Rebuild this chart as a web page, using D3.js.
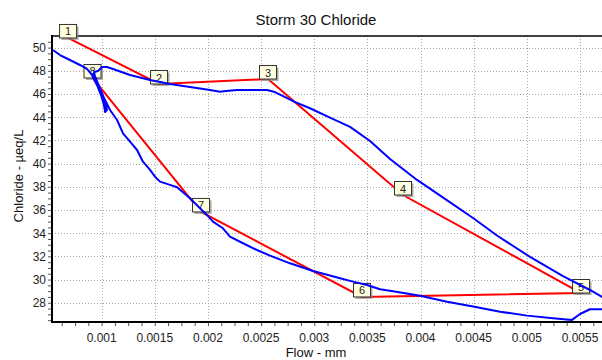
<!DOCTYPE html>
<html>
<head>
<meta charset="utf-8">
<script src="https://cdnjs.cloudflare.com/ajax/libs/d3/7.8.5/d3.min.js"></script>
<style>
  body { margin: 0; background: #fff; }
  text { font-family: Arial, "Liberation Sans", sans-serif; }
</style>
</head>
<body>
<script>
// blue trace: flow (mm) and chloride (ueq/L)
var flow = [0.000542,0.000608,0.000702,0.000796,0.000862,0.000909,0.000956,0.000994,0.001022,0.001032,
  0.001050,0.001022,0.000975,0.000937,0.000928,0.000966,0.001003,0.001050,0.001107,0.001267,
  0.001455,0.001643,0.001831,0.002019,0.002113,0.002170,0.002273,0.002396,0.002556,0.002621,
  0.002716,0.002810,0.002960,0.003148,0.003337,0.003525,0.003713,0.003967,0.004230,0.004494,
  0.004719,0.005030,0.005340,0.005594,0.005707,0.005829,0.005829,0.005707,0.005594,0.005500,
  0.005425,0.005246,0.005002,0.004748,0.004494,0.004249,0.003995,0.003741,0.003619,0.003497,
  0.003365,0.003243,0.002989,0.002772,0.002584,0.002461,0.002330,0.002207,0.002141,0.002047,
  0.001991,0.001925,0.001831,0.001709,0.001643,0.001549,0.001502,0.001455,0.001389,0.001333,
  0.001267,0.001201,0.001145,0.001079,0.001032,0.000985,0.000947,0.000919];
var chloride = [49.79,49.36,48.93,48.50,48.16,47.64,46.78,45.91,45.05,44.45,
  44.62,45.66,46.69,47.55,47.90,47.98,48.33,48.33,48.16,47.64,
  47.21,46.86,46.60,46.34,46.20,46.26,46.34,46.34,46.34,46.20,
  45.77,45.34,44.77,43.96,43.16,41.95,40.40,38.59,36.95,35.31,
  33.80,31.95,30.30,29.10,28.50,27.98,27.46,27.44,27.44,27.03,
  26.52,26.66,26.89,27.23,27.67,28.09,28.61,28.99,29.16,29.53,
  29.82,30.11,30.74,31.40,32.06,32.55,33.13,33.70,34.42,34.99,
  35.57,36.15,37.01,37.96,38.16,38.44,38.87,39.45,40.16,41.17,
  41.89,42.61,43.76,44.62,45.48,46.34,47.21,47.81];

// red numbered path
var stepLabels = ["1","2","3","4","5","6","7","8"];
var stepFlow = [0.000684,0.001540,0.002565,0.003835,0.005510,0.003449,0.001935,0.000914];
var stepChloride = [50.83,46.86,47.29,37.29,28.84,28.50,35.83,47.38];

var xTicks = [0.001,0.0015,0.002,0.0025,0.003,0.0035,0.004,0.0045,0.005,0.0055];
var yTicks = [28,30,32,34,36,38,40,42,44,46,48,50];

var W = 602, H = 360;
var pL = 52, pR = 602, pT = 36, pB = 322;

var x = d3.scaleLinear().domain([0.000533, 0.005707]).range([pL, pR]);
var y = d3.scaleLinear().domain([26.34, 51]).range([pB, pT]);

var svg = d3.select("body").append("svg")
  .attr("width", W).attr("height", H);

svg.append("defs").append("clipPath").attr("id", "plot")
  .append("rect").attr("x", pL).attr("y", pT)
  .attr("width", pR - pL).attr("height", pB - pT);

// grid
var grid = svg.append("g").attr("stroke", "#a8a8a8").attr("stroke-dasharray", "1,2");
grid.selectAll(".gx").data(xTicks).enter().append("line")
  .attr("x1", d => Math.round(x(d)) + 0.5).attr("x2", d => Math.round(x(d)) + 0.5)
  .attr("y1", pT).attr("y2", pB);
grid.selectAll(".gy").data(yTicks).enter().append("line")
  .attr("y1", d => Math.round(y(d)) + 0.5).attr("y2", d => Math.round(y(d)) + 0.5)
  .attr("x1", pL).attr("x2", pR);

// axes
var xMinor = d3.range(0.000625, 0.0057, 0.000125);
var xAxis = d3.axisBottom(x).tickValues(xMinor).tickSize(4).tickFormat("");
var gx = svg.append("g").attr("transform", "translate(0," + pB + ")").call(xAxis);
gx.select(".domain").remove();
gx.selectAll("line").attr("stroke", "#555");

svg.append("g").selectAll("text").data(xTicks).enter().append("text")
  .attr("x", d => x(d)).attr("y", pB + 20)
  .attr("text-anchor", "middle").attr("font-size", 12).attr("fill", "#222")
  .text(d => d);

var yMinor = d3.range(26.5, 51, 0.5);
var yAxis = d3.axisLeft(y).tickValues(yMinor).tickSize(4).tickFormat("");
var gy = svg.append("g").attr("transform", "translate(" + pL + ",0)").call(yAxis);
gy.select(".domain").remove();
gy.selectAll("line").attr("stroke", "#555");

svg.append("g").selectAll("text").data(yTicks).enter().append("text")
  .attr("x", pL - 6).attr("y", d => y(d) + 4.5)
  .attr("text-anchor", "end").attr("font-size", 12).attr("fill", "#222")
  .text(d => d);

// frame
svg.append("line").attr("x1", pL).attr("x2", pR).attr("y1", pT).attr("y2", pT)
  .attr("stroke", "#000").attr("stroke-width", 1.5);
svg.append("line").attr("x1", pL).attr("x2", pL).attr("y1", pT - 1).attr("y2", pB + 1)
  .attr("stroke", "#000").attr("stroke-width", 2);
svg.append("line").attr("x1", pL - 1).attr("x2", pR).attr("y1", pB).attr("y2", pB)
  .attr("stroke", "#000").attr("stroke-width", 2);

// red path
var steps = stepLabels.map((l, i) => ({ l: l, f: stepFlow[i], c: stepChloride[i] }));
var line = d3.line().x(d => x(d.f)).y(d => y(d.c));
svg.append("path").datum(steps)
  .attr("d", line).attr("fill", "none")
  .attr("stroke", "#ff0000").attr("stroke-width", 2);

// label boxes (bottom centre sits on the point)
var box = svg.append("g").selectAll("g").data(steps).enter().append("g")
  .attr("transform", d => "translate(" + (x(d.f) - 8.5) + "," + (y(d.c) - 13.5) + ")");
box.append("rect").attr("x", 2).attr("y", 2).attr("width", 17).attr("height", 13.5)
  .attr("fill", "#8a8a8a").attr("opacity", 0.7);
box.append("rect").attr("width", 17).attr("height", 13.5)
  .attr("fill", "#ffffe0").attr("stroke", "#333").attr("stroke-width", 1);
box.append("text").attr("x", 8.5).attr("y", 11)
  .attr("text-anchor", "middle").attr("font-size", 11).attr("fill", "#222")
  .text(d => d.l);

// blue trace
var pts = flow.map((f, i) => ({ f: f, c: chloride[i] }));
svg.append("path").datum(pts)
  .attr("clip-path", "url(#plot)")
  .attr("d", line).attr("fill", "none")
  .attr("stroke", "#0000ff").attr("stroke-width", 2).attr("stroke-linejoin", "round");

// titles
svg.append("text").attr("x", 316).attr("y", 25).attr("text-anchor", "middle")
  .attr("font-size", 15).attr("fill", "#111").text("Storm 30 Chloride");
svg.append("text").attr("x", 316).attr("y", 357).attr("text-anchor", "middle")
  .attr("font-size", 13).attr("fill", "#111").text("Flow - mm");
svg.append("text").attr("transform", "translate(23,176) rotate(-90)")
  .attr("text-anchor", "middle").attr("font-size", 13).attr("fill", "#111")
  .text("Chloride - µeq/L");
</script>
</body>
</html>
